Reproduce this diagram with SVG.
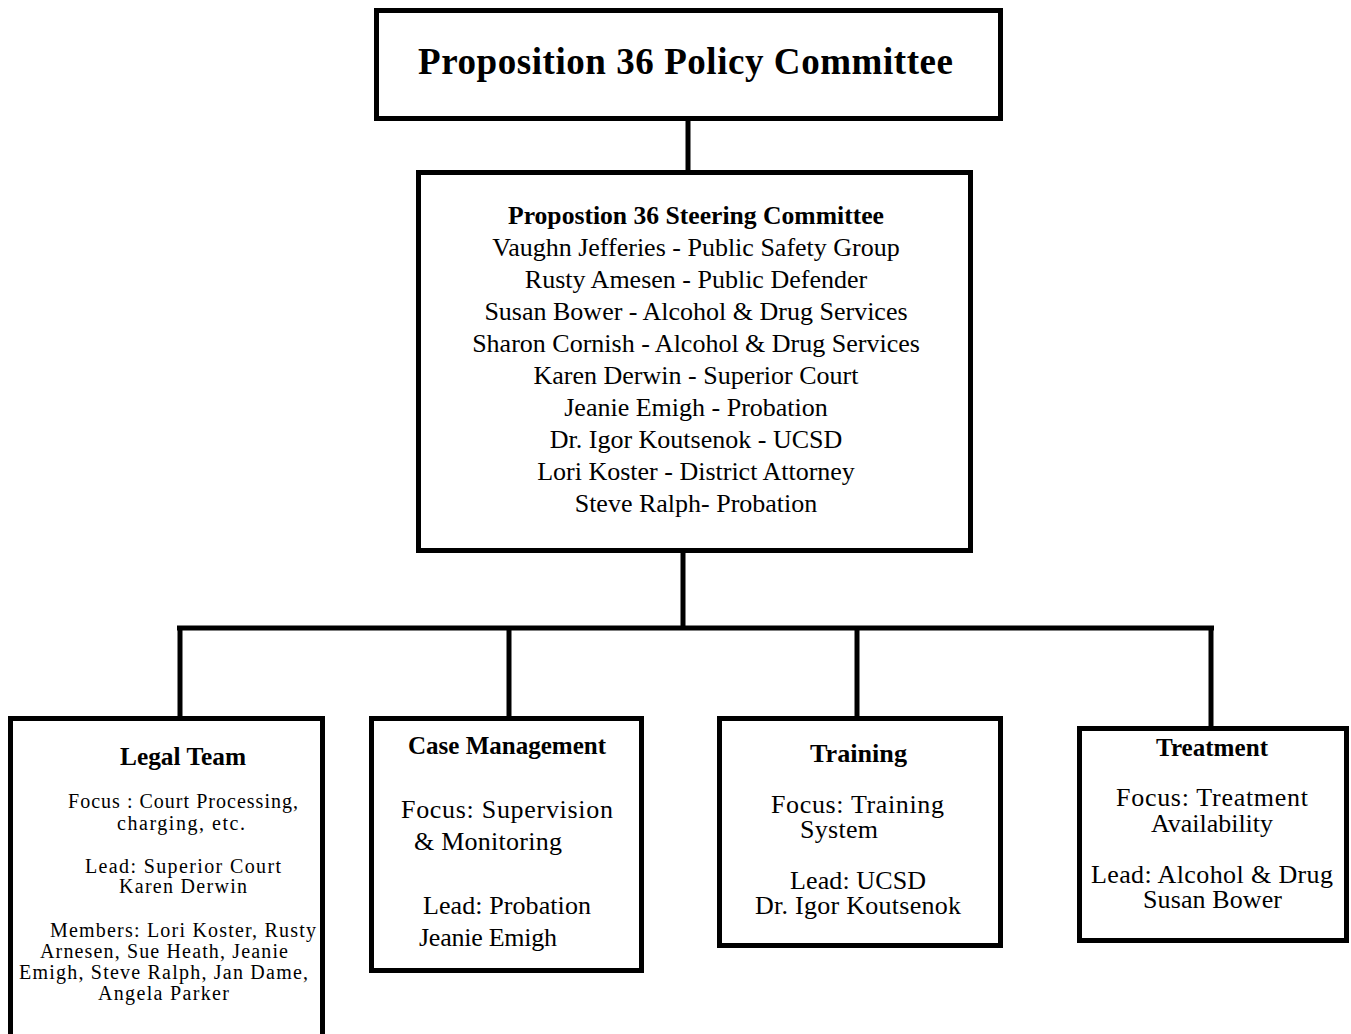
<svg xmlns="http://www.w3.org/2000/svg" width="1351" height="1034" viewBox="0 0 1351 1034">
<style>
.box{fill:#fff;stroke:#000;stroke-width:5}
.ln{stroke:#000;stroke-width:5;fill:none}
text{font-family:"Liberation Serif","Times New Roman",serif;fill:#000}
.t{font-size:37px;font-weight:bold}
.h{font-size:25px;font-weight:bold}
.hs{font-size:26px;font-weight:bold}
.m{font-size:26px}
.s{font-size:20px}
</style>
<rect width="1351" height="1034" fill="#fff"/>
<g id="connectors">
<line class="ln" x1="688" y1="120" x2="688" y2="172"/>
<line class="ln" x1="683" y1="552" x2="683" y2="630"/>
<line class="ln" x1="177" y1="628" x2="1214" y2="628"/>
<line class="ln" x1="180" y1="626" x2="180" y2="718"/>
<line class="ln" x1="509" y1="626" x2="509" y2="718"/>
<line class="ln" x1="857" y1="626" x2="857" y2="718"/>
<line class="ln" x1="1211" y1="626" x2="1211" y2="728"/>
</g>
<g id="policy">
<rect class="box" x="376.5" y="10.5" width="624" height="108"/>
<text class="t" x="418" y="74" textLength="535" lengthAdjust="spacing">Proposition 36 Policy Committee</text>
</g>
<g id="steering">
<rect class="box" x="418.5" y="172.5" width="552" height="378"/>
<text class="hs" x="508" y="224" textLength="376" lengthAdjust="spacingAndGlyphs">Propostion 36 Steering Committee</text>
<g class="m" text-anchor="middle">
<text x="696" y="256">Vaughn Jefferies - Public Safety Group</text>
<text x="696" y="288">Rusty Amesen - Public Defender</text>
<text x="696" y="320">Susan Bower - Alcohol &amp; Drug Services</text>
<text x="696" y="352">Sharon Cornish - Alcohol &amp; Drug Services</text>
<text x="696" y="384">Karen Derwin - Superior Court</text>
<text x="696" y="416">Jeanie Emigh - Probation</text>
<text x="696" y="448">Dr. Igor Koutsenok - UCSD</text>
<text x="696" y="480">Lori Koster - District Attorney</text>
<text x="696" y="512">Steve Ralph- Probation</text>
</g>
</g>
<g id="legal">
<rect class="box" x="10.5" y="718.5" width="312" height="330"/>
<text class="h" x="120" y="765" textLength="126" lengthAdjust="spacingAndGlyphs">Legal Team</text>
<g class="s">
<text x="68" y="808" textLength="230" lengthAdjust="spacing">Focus : Court Processing,</text>
<text x="117" y="830" textLength="128" lengthAdjust="spacing">charging, etc.</text>
<text x="85" y="873" textLength="196" lengthAdjust="spacing">Lead:  Superior Court</text>
<text x="119" y="893" textLength="128" lengthAdjust="spacing">Karen  Derwin</text>
<text x="50" y="937" textLength="266" lengthAdjust="spacing">Members: Lori Koster, Rusty</text>
<text x="40" y="958" textLength="248" lengthAdjust="spacing">Arnesen, Sue Heath, Jeanie</text>
<text x="19" y="979" textLength="289" lengthAdjust="spacing">Emigh, Steve Ralph, Jan Dame,</text>
<text x="98" y="1000" textLength="131" lengthAdjust="spacing">Angela Parker</text>
</g>
</g>
<g id="case">
<rect class="box" x="371.5" y="718.5" width="270" height="252"/>
<text class="h" x="408" y="754" textLength="198" lengthAdjust="spacingAndGlyphs">Case Management</text>
<g class="m">
<text x="401" y="818" textLength="212" lengthAdjust="spacing">Focus:  Supervision</text>
<text x="414" y="850" textLength="148" lengthAdjust="spacing">&amp; Monitoring</text>
<text x="423" y="914" textLength="168" lengthAdjust="spacing">Lead: Probation</text>
<text x="419" y="946" textLength="138" lengthAdjust="spacing">Jeanie Emigh</text>
</g>
</g>
<g id="training">
<rect class="box" x="719.5" y="718.5" width="281" height="227"/>
<text class="h" x="810" y="762" textLength="97" lengthAdjust="spacingAndGlyphs">Training</text>
<g class="m">
<text x="771" y="813" textLength="173" lengthAdjust="spacing">Focus:  Training</text>
<text x="800" y="838" textLength="78" lengthAdjust="spacing">System</text>
<text x="790" y="889" textLength="136" lengthAdjust="spacing">Lead: UCSD</text>
<text x="755" y="914" textLength="206" lengthAdjust="spacing">Dr. Igor Koutsenok</text>
</g>
</g>
<g id="treatment">
<rect class="box" x="1079.5" y="728.5" width="267" height="212"/>
<text class="h" x="1156" y="756" textLength="112" lengthAdjust="spacingAndGlyphs">Treatment</text>
<g class="m">
<text x="1116" y="806" textLength="192" lengthAdjust="spacing">Focus:  Treatment</text>
<text x="1151" y="832" textLength="122" lengthAdjust="spacing">Availability</text>
<text x="1091" y="883" textLength="242" lengthAdjust="spacing">Lead:  Alcohol &amp; Drug</text>
<text x="1143" y="908" textLength="139" lengthAdjust="spacing">Susan Bower</text>
</g>
</g>
</svg>
